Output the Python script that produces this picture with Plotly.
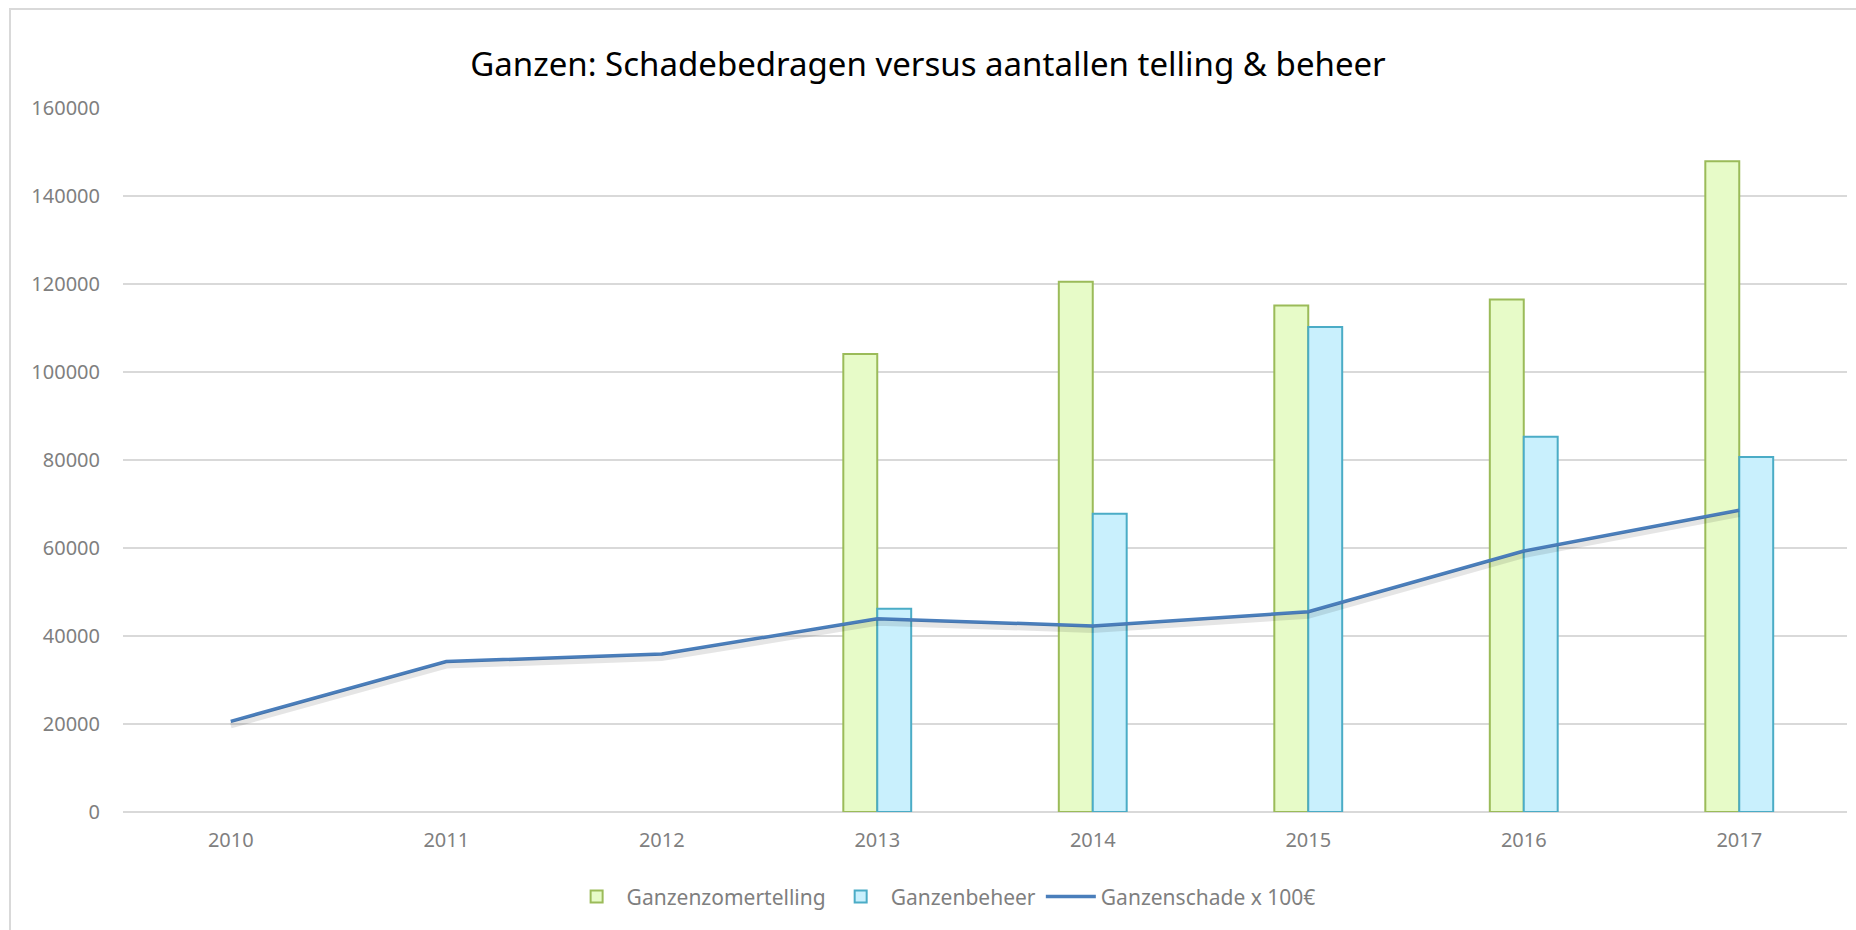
import plotly.graph_objects as go

years = ["2010", "2011", "2012", "2013", "2014", "2015", "2016", "2017"]
zomertelling = [None, None, None, 104100, 120500, 115100, 116500, 147900]
beheer = [None, None, None, 46200, 67800, 110200, 85300, 80700]
schade = [20600, 34200, 35900, 43900, 42300, 45500, 59300, 68600]
y_ticks = [0, 20000, 40000, 60000, 80000, 100000, 120000, 140000, 160000]
y_tick_labels = [str(v) for v in y_ticks]

FONT = "Noto Sans"
GRAY = "#7f7f7f"
Y_MAX = 160000
PLOT_H = 704
shadow_shift = 4 * Y_MAX / PLOT_H  # shadow rendered ~4px below the line

fig = go.Figure()
fig.add_trace(go.Bar(
    x=years, y=zomertelling, name="Ganzenzomertelling",
    marker=dict(color="#e7fbc8", line=dict(color="#9bbb59", width=2)),
))
fig.add_trace(go.Bar(
    x=years, y=beheer, name="Ganzenbeheer",
    marker=dict(color="#c9f0fd", line=dict(color="#4bacc6", width=2)),
))
# soft shadow under the line (same data on an overlaid, slightly shifted axis)
fig.add_trace(go.Scatter(
    x=years, y=schade, mode="lines", yaxis="y2", showlegend=False,
    hoverinfo="skip", line=dict(color="rgba(0,0,0,0.10)", width=6),
))
fig.add_trace(go.Scatter(
    x=years, y=schade, name="Ganzenschade x 100€", mode="lines",
    line=dict(color="#4a7ebb", width=3.5),
))

fig.update_layout(
    width=1856, height=930,
    paper_bgcolor="white", plot_bgcolor="white",
    margin=dict(l=123, r=9, t=108, b=118),
    barmode="group", bargap=0.685, bargroupgap=0,
    title=dict(text="Ganzen: Schadebedragen versus aantallen telling & beheer",
               x=0.5, xanchor="center", y=1 - 64 / 930, yanchor="middle",
               yref="container",
               font=dict(family=FONT, size=33, color="#000000")),
    font=dict(family=FONT, color=GRAY),
    legend=dict(orientation="h", x=0.476, xanchor="center",
                y=-0.1207, yanchor="middle",
                font=dict(family=FONT, size=21, color=GRAY),
                itemwidth=50, traceorder="normal"),
    xaxis=dict(showgrid=False, showline=False, ticks="",
               tickfont=dict(family=FONT, size=20, color=GRAY),
               ticklabelstandoff=14),
    yaxis=dict(range=[0, Y_MAX], tickvals=y_ticks, ticktext=y_tick_labels,
               showgrid=True, gridcolor="#d9d9d9", gridwidth=1.5,
               zeroline=True, zerolinecolor="#d9d9d9", zerolinewidth=1.5,
               showline=False, ticks="",
               tickfont=dict(family=FONT, size=20, color=GRAY),
               ticklabelstandoff=22),
    yaxis2=dict(range=[shadow_shift, Y_MAX + shadow_shift], overlaying="y",
                visible=False, showgrid=False, zeroline=False),
    shapes=[dict(type="rect", xref="paper", yref="paper",
                 x0=(10 - 123) / 1724, x1=(1870 - 123) / 1724,
                 y0=(812 - 945) / 704, y1=(812 - 9) / 704,
                 line=dict(color="#d9d9d9", width=2), fillcolor="rgba(0,0,0,0)",
                 layer="below")],
)

fig.write_html("out.html", config={"displayModeBar": False},
               post_script="document.body.style.margin='0';")
